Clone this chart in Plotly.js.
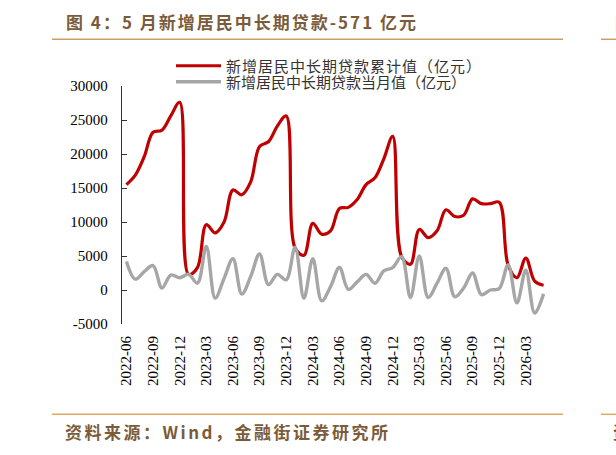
<!DOCTYPE html>
<html><head><meta charset="utf-8">
<script src="https://cdn.plot.ly/plotly-3.0.1.min.js"></script>
<style>
html,body{margin:0;padding:0;background:#fff}
#chart .gtitle{letter-spacing:2px}
#chart .annotation-text{letter-spacing:2.5px}
#chart .legendtext{letter-spacing:1px}
</style>
</head><body><div id="chart" style="width:616px;height:455px"></div>
<script>
const months = ["2022-06","2022-07","2022-08","2022-09","2022-10","2022-11","2022-12",
"2023-01","2023-02","2023-03","2023-04","2023-05","2023-06","2023-07","2023-08","2023-09","2023-10","2023-11","2023-12",
"2024-01","2024-02","2024-03","2024-04","2024-05","2024-06","2024-07","2024-08","2024-09","2024-10","2024-11","2024-12",
"2025-01","2025-02","2025-03","2025-04","2025-05","2025-06","2025-07","2025-08","2025-09","2025-10","2025-11","2025-12",
"2026-01","2026-02","2026-03","2026-04","2026-05"];
const cumulative = [15500,16900,19600,23200,23500,25600,27600,
2300,3300,9600,8400,10000,14700,14000,15900,21100,21800,24100,25600,
6200,5100,9800,8200,8700,12000,12150,13300,15500,16500,19300,22600,
4900,3800,8900,7700,8700,11800,10800,11000,13400,12700,12700,12900,
3700,1800,4700,1300,700];
const monthly = [4200,1600,2700,3600,300,2200,1800,
2300,1000,6400,-1200,1700,4600,-600,2000,5300,800,2300,1500,
6300,-1200,4600,-1600,500,3300,100,1200,2300,1000,2800,3300,
4900,-1100,5000,-1100,1000,3200,-1000,300,2500,-700,0,200,
3700,-1900,2900,-3400,-571];
const xTickLabels = ["2022-06","2022-09","2022-12","2023-03","2023-06","2023-09","2023-12","2024-03","2024-06","2024-09","2024-12","2025-03","2025-06","2025-09","2025-12","2026-03"];
const yTickVals = [-5000,0,5000,10000,15000,20000,25000,30000];
const yTickText = ["-5000","0","5000","10000","15000","20000","25000","30000"];
const seriesNames = ["新增居民中长期贷款累计值（亿元）","新增居民中长期贷款当月值（亿元）"];
const titleText = "图 4：5 月新增居民中长期贷款-571 亿元";
const sourceText = "资料来源：Wind，金融街证券研究所";

const brown = "#7B5C3A";
const cjk = "Noto Sans CJK SC";
const serif = "Liberation Serif";

const W = 426, H = 238, L = 122, B = 324;
const px = v => (v - L) / W;
const py = v => (B - v) / H;

const traces = [
  {x: months, y: cumulative, type: "scatter", mode: "lines", name: seriesNames[0],
   line: {color: "#C00000", width: 3.2, shape: "spline", smoothing: 1}, legend: "legend"},
  {x: months, y: monthly, type: "scatter", mode: "lines", name: seriesNames[1],
   line: {color: "#A6A6A6", width: 3.4, shape: "spline", smoothing: 1}, legend: "legend2"}
];

const axisCol = "#333333";
const legendFont = {family: cjk, size: 15, color: "#333"};
const layout = {
  width: 616, height: 455,
  margin: {l: 122, r: 68, t: 86, b: 131, pad: 0},
  paper_bgcolor: "#fff", plot_bgcolor: "#fff",
  showlegend: true,
  title: {text: titleText, x: 66/616, xref: "container", xanchor: "left",
          y: 1 - 23/455, yref: "container", yanchor: "middle",
          font: {family: cjk, size: 17, color: brown, weight: "bold"}},
  xaxis: {type: "category", range: [-0.5, 47.5], tickmode: "array",
          tickvals: xTickLabels, ticktext: xTickLabels, tickangle: -90,
          ticks: "", showline: false, showgrid: false, zeroline: false,
          ticklabelstandoff: 8,
          tickfont: {family: serif, size: 15, color: "#000"}},
  xaxis2: {overlaying: "x", anchor: "free", position: 5000/35000, side: "bottom",
           type: "linear", range: [-0.5, 47.5], tickmode: "linear", tick0: -0.5, dtick: 1,
           ticks: "inside", ticklen: 5, tickwidth: 1, tickcolor: axisCol,
           showline: true, linecolor: axisCol, linewidth: 1.2,
           showticklabels: false, showgrid: false, zeroline: false},
  yaxis: {range: [-5000, 30000], tickmode: "array", tickvals: yTickVals, ticktext: yTickText,
          ticks: "inside", ticklen: 5, tickwidth: 1, tickcolor: axisCol,
          showline: true, linecolor: axisCol, linewidth: 1.2,
          showgrid: false, zeroline: false, ticklabelstandoff: 10,
          tickfont: {family: serif, size: 15, color: "#000"}},
  legend: {x: px(171), xref: "paper", xanchor: "left", y: py(66), yref: "paper", yanchor: "middle",
           bgcolor: "rgba(0,0,0,0)", itemwidth: 45, font: legendFont},
  legend2: {x: px(171), xref: "paper", xanchor: "left", y: py(82), yref: "paper", yanchor: "middle",
           bgcolor: "rgba(0,0,0,0)", itemwidth: 45, font: legendFont},
  shapes: [
    {type: "line", xref: "paper", yref: "paper", x0: px(52), x1: px(563), y0: py(39.3), y1: py(39.3), line: {color: "#C9A063", width: 1.5}},
    {type: "line", xref: "paper", yref: "paper", x0: px(601), x1: px(620), y0: py(39.3), y1: py(39.3), line: {color: "#C9A063", width: 1.5}},
    {type: "line", xref: "paper", yref: "paper", x0: px(52), x1: px(563), y0: py(414.3), y1: py(414.3), line: {color: "#DDAA60", width: 1.5}},
    {type: "line", xref: "paper", yref: "paper", x0: px(601), x1: px(620), y0: py(414.3), y1: py(414.3), line: {color: "#DDAA60", width: 1.5}}
  ],
  annotations: [
    {text: sourceText, xref: "paper", yref: "paper", x: px(63), y: py(431), align: "left",
     xanchor: "left", yanchor: "middle", showarrow: false,
     font: {family: cjk, size: 17, color: brown, weight: "bold"}},
    {text: "图", xref: "paper", yref: "paper", x: px(613), y: py(23), align: "left",
     xanchor: "left", yanchor: "middle", showarrow: false,
     font: {family: cjk, size: 17, color: brown, weight: "bold"}},
    {text: "资", xref: "paper", yref: "paper", x: px(611), y: py(431), align: "left",
     xanchor: "left", yanchor: "middle", showarrow: false,
     font: {family: cjk, size: 17, color: brown, weight: "bold"}}
  ]
};

Plotly.newPlot("chart", traces, layout, {displayModeBar: false, staticPlot: true});
</script></body></html>
